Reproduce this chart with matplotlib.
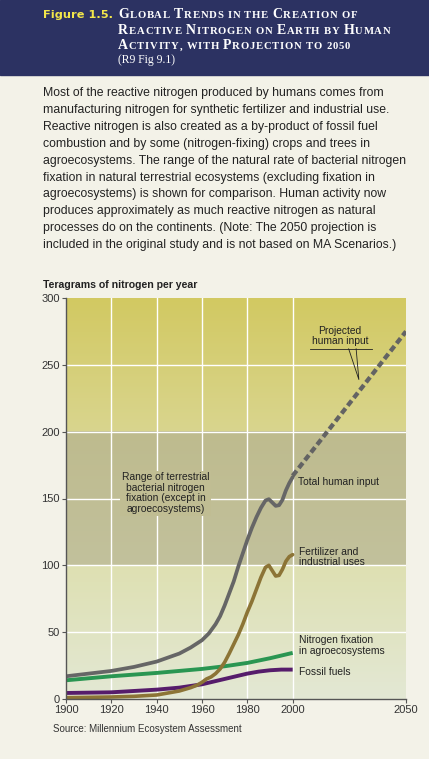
import numpy as np
import matplotlib
matplotlib.use('Agg')
import matplotlib.pyplot as plt
from matplotlib.patches import Rectangle

# Data (teragrams of N per year)
total_years = [1900, 1910, 1920, 1930, 1940, 1945, 1950, 1955, 1960, 1963, 1966, 1968, 1970,
               1972, 1974, 1976, 1978, 1980, 1982, 1984, 1986, 1988, 1989.5, 1991, 1992.5,
               1994, 1995.5, 1997, 1998.5, 2000]
total_vals = [17, 19, 21, 24, 28, 31, 34, 38.5, 44, 49, 56, 62, 70,
              79, 88, 99, 109, 119, 128, 136, 143, 148.5, 149.5, 147, 144.5,
              145, 149, 156, 161.5, 166]

fert_years = [1900, 1920, 1930, 1940, 1945, 1950, 1955, 1958, 1960, 1962, 1964, 1966, 1968,
              1970, 1972, 1974, 1976, 1978, 1980, 1982, 1984, 1986, 1988, 1989.5, 1991,
              1992.5, 1994, 1995.5, 1997, 1998.5, 2000]
fert_vals = [1, 1.5, 2, 3, 4.5, 6, 8.5, 10.5, 12.5, 15, 16.5, 19, 22.5,
             27.5, 34, 41, 48, 56, 65, 73, 82, 91, 98.5, 100, 96,
             92, 92.5, 97, 103, 106.5, 108]

agro_years = [1900, 1920, 1940, 1960, 1970, 1980, 1990, 2000]
agro_vals = [14, 17, 19.5, 22.5, 24.5, 27, 30.5, 34.5]

fossil_years = [1900, 1920, 1930, 1940, 1950, 1960, 1965, 1970, 1975, 1980, 1985, 1990, 1995, 2000]
fossil_vals = [4.5, 5, 6, 7, 8.5, 11, 13, 15, 17, 19, 20.5, 21.5, 22, 22]

proj_years = [2000, 2050]
proj_vals = [167, 275]

x_ticks = [1900, 1920, 1940, 1960, 1980, 2000, 2050]
y_ticks = [0, 50, 100, 150, 200, 250, 300]

title_lines = ["Global Trends in the Creation of",
               "Reactive Nitrogen on Earth by Human",
               "Activity, with Projection to 2050"]

body_lines = [
    "Most of the reactive nitrogen produced by humans comes from",
    "manufacturing nitrogen for synthetic fertilizer and industrial use.",
    "Reactive nitrogen is also created as a by-product of fossil fuel",
    "combustion and by some (nitrogen-fixing) crops and trees in",
    "agroecosystems. The range of the natural rate of bacterial nitrogen",
    "fixation in natural terrestrial ecosystems (excluding fixation in",
    "agroecosystems) is shown for comparison. Human activity now",
    "produces approximately as much reactive nitrogen as natural",
    "processes do on the continents. (Note: The 2050 projection is",
    "included in the original study and is not based on MA Scenarios.)",
]

W, H = 429, 759
BG = '#f3f2e8'
fig = plt.figure(figsize=(W / 100, H / 100), dpi=100, facecolor=BG)

# full-figure layer for the header and body text
bg = fig.add_axes([0, 0, 1, 1])
bg.set_xlim(0, W)
bg.set_ylim(H, 0)
bg.axis('off')
bg.add_patch(Rectangle((0, 0), W, 75, color='#2c3262', zorder=0))


def fy(py):
    return 1 - py / H


def small_caps(x, y, text, big=10.0, small=7.7, color='white'):
    # fake small caps: one artist per letter, chained left to right
    prev = None
    for wi, word in enumerate(text.split(' ')):
        for ci, ch in enumerate(word):
            size = big if ch.isupper() else small
            kw = dict(fontsize=size, color=color, fontweight='bold',
                      family='Liberation Serif', ha='left', va='baseline')
            if prev is None:
                prev = bg.text(x / W, fy(y), ch.upper(), transform=fig.transFigure, **kw)
            else:
                gap = 3.0 if ci == 0 else 0.55
                prev = bg.annotate(ch.upper(), xy=(1, fy(y)), xycoords=(prev, 'figure fraction'),
                                   xytext=(gap, 0), textcoords='offset points', **kw)
    return prev


fig.text(43 / W, fy(18), "Figure 1.5.", color='#f2e64a', fontsize=8.2, fontweight='bold',
         family='DejaVu Sans', va='baseline')
for i, line in enumerate(title_lines):
    small_caps(118, 18.3 + i * 15.5, line)
fig.text(118 / W, fy(63.5), "(R9 Fig 9.1)", color='white', fontsize=8.4,
         family='Liberation Serif', va='baseline')

for i, line in enumerate(body_lines):
    fig.text(43 / W, fy(96 + i * 16.9), line, fontsize=8.85, color='#222222',
             family='Liberation Sans', va='baseline')

fig.text(43 / W, fy(287.5), "Teragrams of nitrogen per year", fontsize=7.6,
         fontweight='bold', color='#222222', family='Liberation Sans', va='baseline')
fig.text(53 / W, fy(732), "Source: Millennium Ecosystem Assessment", fontsize=7,
         color='#333333', family='Liberation Sans', va='baseline')

# main chart
ax = fig.add_axes([66 / W, 1 - 699 / H, 340 / W, 401 / H])
ax.set_xlim(1900, 2050)
ax.set_ylim(0, 300)
ax.set_facecolor('none')


def band(y0, y1, c_top, c_bot):
    top = np.array(matplotlib.colors.to_rgb(c_top))
    bot = np.array(matplotlib.colors.to_rgb(c_bot))
    t = np.linspace(0, 1, 64)[:, None]
    img = (top * (1 - t) + bot * t)[:, None, :]
    ax.imshow(img, extent=(1900, 2050, y0, y1), aspect='auto', origin='upper', zorder=0)


band(200, 300, '#d2c962', '#d9d58e')
band(100, 200, '#bebb8e', '#c2c19c')
band(0, 100, '#dee0b2', '#e3e8d4')

for yv in [50, 100, 150, 200, 250]:
    ax.axhline(yv, color='white', lw=1, zorder=1)
for xv in [1920, 1940, 1960, 1980, 2000]:
    ax.axvline(xv, color='white', lw=1, zorder=1)

ax.text(1944, 154, "Range of terrestrial\nbacterial nitrogen\nfixation (except in\nagroecosystems)",
        ha='center', va='center', fontsize=7.4, color='#222222', family='Liberation Sans',
        linespacing=1.08, zorder=2,
        bbox=dict(boxstyle='square,pad=0.15', fc='#c0bd93', ec='none'))

ax.plot(total_years, total_vals, color='#666666', lw=2.7, solid_capstyle='round', zorder=5)
ax.plot(proj_years, proj_vals, color='#636363', lw=3.1, dashes=(1.5, 0.8), zorder=5)
ax.plot(agro_years, agro_vals, color='#2a9652', lw=2.8, solid_capstyle='butt', zorder=4)
ax.plot(fossil_years, fossil_vals, color='#561c6b', lw=2.8, solid_capstyle='butt', zorder=4)
ax.plot(fert_years, fert_vals, color='#8c7436', lw=2.6, solid_capstyle='round', zorder=4.5)

lab = dict(fontsize=7.4, color='#222222', family='Liberation Sans', ha='left',
           va='center', linespacing=1.05, zorder=6)
ax.text(2002.2, 162.5, "Total human input", **lab)
ax.text(2003, 106.4, "Fertilizer and\nindustrial uses", **lab)
ax.text(2003, 40, "Nitrogen fixation\nin agroecosystems", **lab)
ax.text(2003, 20.4, "Fossil fuels", **lab)
ax.text(2020.9, 271.5, "Projected\nhuman input", **{**lab, 'ha': 'center'})
ax.plot([2007.6, 2035.1], [262, 262], color='#222222', lw=0.6, zorder=6)
ax.plot([2024.7, 2029.2, 2028], [262, 239, 262], color='#222222', lw=0.6, zorder=6)

ax.set_xticks(x_ticks)
ax.set_yticks(y_ticks)
ax.tick_params(axis='both', direction='out', length=3, width=0.8, color='#555555',
               labelsize=8, labelcolor='#333333', pad=1.5)
for t in ax.get_xticklabels() + ax.get_yticklabels():
    t.set_family('Liberation Sans')
for s in ['top', 'right']:
    ax.spines[s].set_visible(False)
for s in ['left', 'bottom']:
    ax.spines[s].set_color('#555555')
    ax.spines[s].set_linewidth(1)
    ax.spines[s].set_zorder(7)

fig.savefig('out.png', dpi=100, facecolor=BG)
